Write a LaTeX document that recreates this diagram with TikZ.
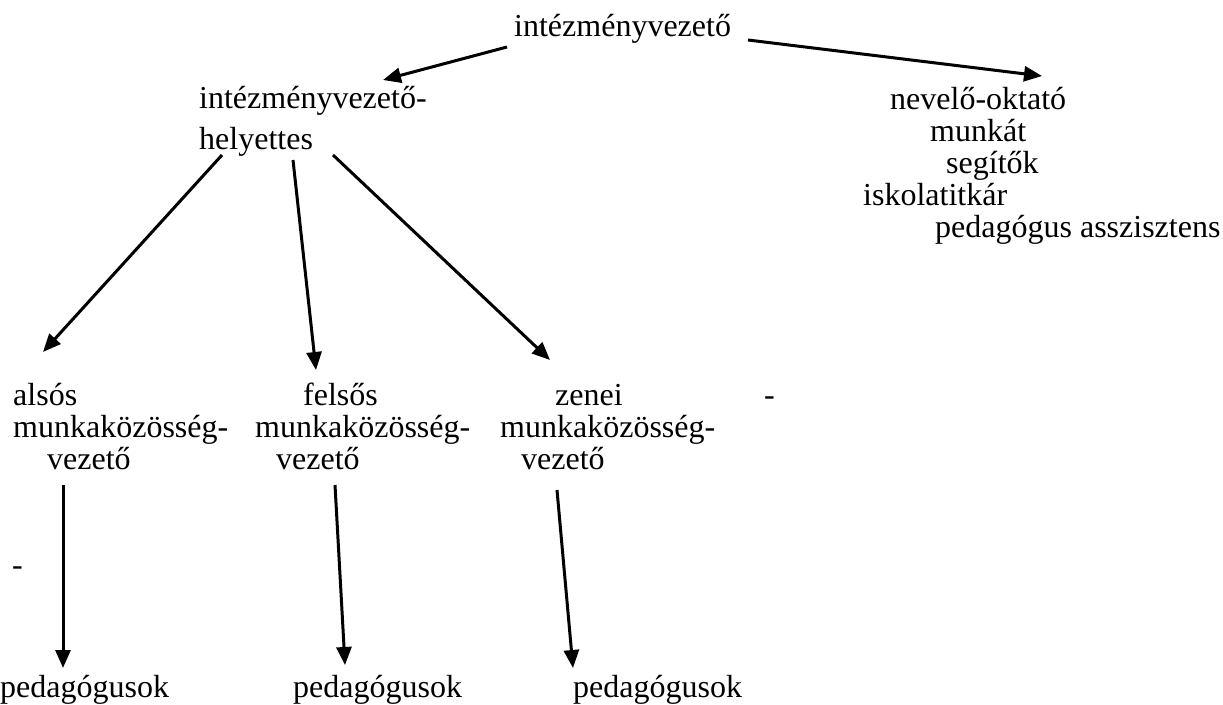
\documentclass[tikz,border=0pt]{standalone}
\usepackage{fontspec}
\setmainfont{Liberation Serif}
\usepackage{tikz}
\usetikzlibrary{positioning, arrows.meta, calc}
\tikzset{
    txt/.style={anchor=base west, inner sep=0pt, font=\fontsize{32}{32}\selectfont},
    nyil/.style={-{Triangle[length=18pt, width=15pt]}, line width=3pt},
}
\begin{document}
\begin{tikzpicture}[x=1pt, y=-1pt]
    \useasboundingbox (0,0) rectangle (1223,704);

    \node[txt] (vez) at (514,36) {intézményvezető};

    \node[txt] (hely1) at (199,108) {intézményvezető-};
    \node[txt] (hely2) at (199,149) {helyettes};

    \node[txt] (seg1) at (890,109) {nevelő-oktató};
    \node[txt] (seg2) at (930,141) {munkát};
    \node[txt] (seg3) at (946,173) {segítők};
    \node[txt] (seg4) at (863,205) {iskolatitkár};
    \node[txt] (seg5) at (935,237) {pedagógus asszisztens};

    \node[txt] (also1) at (13,405) {alsós};
    \node[txt] (also2) at (13,437) {munkaközösség-};
    \node[txt] (also3) at (47,469) {vezető};

    \node[txt] (fels1) at (303,405) {felsős};
    \node[txt] (fels2) at (255,437) {munkaközösség-};
    \node[txt] (fels3) at (276,469) {vezető};

    \node[txt] (zene1) at (555,405) {zenei};
    \node[txt] (zene2) at (500,437) {munkaközösség-};
    \node[txt] (zene3) at (521,469) {vezető};

    \node[txt] (dash1) at (764,405) {-};
    \node[txt] (dash2) at (12,575) {-};

    \node[txt] (ped1) at (0,697) {pedagógusok};
    \node[txt] (ped2) at (293,697) {pedagógusok};
    \node[txt] (ped3) at (573,697) {pedagógusok};

    \draw[nyil] ($(vez.base west)+(-7,11)$) -- ($(hely1.base west)+(184,-28)$);
    \draw[nyil] ($(vez.base west)+(234,4)$) -- ($(seg1.base west)+(152,-33)$);

    \draw[nyil] ($(hely2.base west)+(23,6)$) -- ($(also1.base west)+(30,-53)$);
    \draw[nyil] ($(hely2.base west)+(94,11)$) -- ($(fels1.base west)+(13,-35)$);
    \draw[nyil] ($(hely2.base west)+(134,6)$) -- ($(zene1.base west)+(-5,-45)$);

    \draw[nyil] ($(also3.base west)+(16,16)$) -- ($(ped1.base west)+(63,-29)$);
    \draw[nyil] ($(fels3.base west)+(59,16)$) -- ($(ped2.base west)+(52,-32)$);
    \draw[nyil] ($(zene3.base west)+(36,21)$) -- ($(ped3.base west)+(0,-29)$);

\end{tikzpicture}
\end{document}
